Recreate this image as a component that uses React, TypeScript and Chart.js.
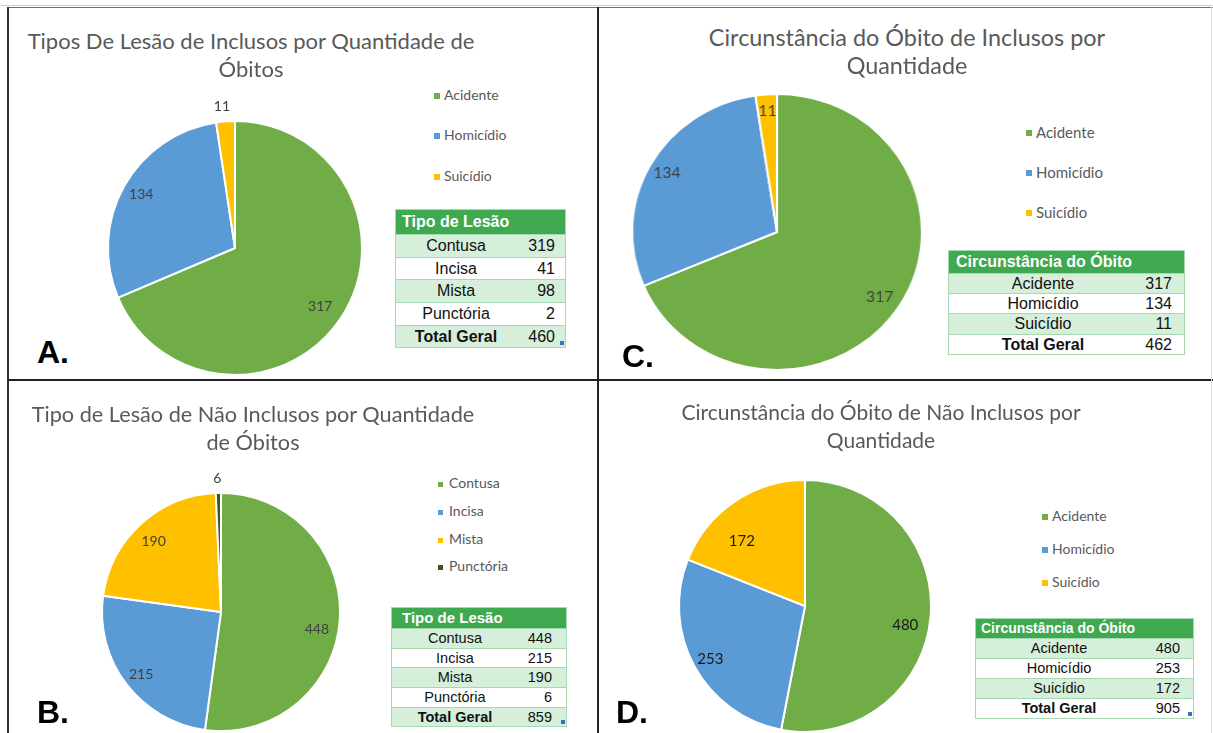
import React, { useEffect, useRef } from "react";
import { Chart, registerables } from "chart.js";
Chart.register(...registerables);

const GREEN = "#70AD47";
const BLUE = "#5B9BD5";
const YELLOW = "#FFC000";
const DARKGREEN = "#375623";

// ---------- Panel A ----------
const titleA = ["Tipos De Lesão de Inclusos por Quantidade de", "Óbitos"];
const legendA = ["Acidente", "Homicídio", "Suicídio"];
const valuesA = [317, 134, 11];
const tableTitleA = "Tipo de Lesão";
const tableLabelsA = ["Contusa", "Incisa", "Mista", "Punctória"];
const tableValuesA = [319, 41, 98, 2];
const tableTotalA = 460;

// ---------- Panel B ----------
const titleB = ["Tipo de Lesão de Não Inclusos por Quantidade", "de Óbitos"];
const legendB = ["Contusa", "Incisa", "Mista", "Punctória"];
const valuesB = [448, 215, 190, 6];
const tableTitleB = "Tipo de Lesão";
const tableLabelsB = ["Contusa", "Incisa", "Mista", "Punctória"];
const tableValuesB = [448, 215, 190, 6];
const tableTotalB = 859;

// ---------- Panel C ----------
const titleC = ["Circunstância do Óbito de Inclusos por", "Quantidade"];
const legendC = ["Acidente", "Homicídio", "Suicídio"];
const valuesC = [317, 134, 11];
const tableTitleC = "Circunstância do Óbito";
const tableLabelsC = ["Acidente", "Homicídio", "Suicídio"];
const tableValuesC = [317, 134, 11];
const tableTotalC = 462;

// ---------- Panel D ----------
const titleD = ["Circunstância do Óbito de Não Inclusos por", "Quantidade"];
const legendD = ["Acidente", "Homicídio", "Suicídio"];
const valuesD = [480, 253, 172];
const tableTitleD = "Circunstância do Óbito";
const tableLabelsD = ["Acidente", "Homicídio", "Suicídio"];
const tableValuesD = [480, 253, 172];
const tableTotalD = 905;

const TOTAL_LABEL = "Total Geral";
const colors3 = [GREEN, BLUE, YELLOW];
const colors4 = [GREEN, BLUE, YELLOW, DARKGREEN];

const TITLE_FONT = "Lato, 'Open Sans', sans-serif";
const TABLE_FONT = "'Liberation Sans', Arial, sans-serif";

type PieProps = {
  labels: string[];
  values: number[];
  colors: string[];
  cx: number;
  cy: number;
  r: number;
  scaleX?: number;
  factors: number[];
  offsets: number[];
  fontSize: number;
  labelColor: string;
};

function Pie(p: PieProps) {
  const ref = useRef<HTMLCanvasElement | null>(null);
  const m = 34;
  const size = 2 * p.r + 2 * m;
  useEffect(() => {
    const labelPlugin = {
      id: "sliceLabels",
      afterDatasetsDraw(chart: any) {
        const ctx = chart.ctx;
        const meta = chart.getDatasetMeta(0);
        ctx.save();
        ctx.font = `${p.fontSize}px ${TITLE_FONT}`;
        ctx.fillStyle = p.labelColor;
        ctx.textAlign = "center";
        ctx.textBaseline = "middle";
        meta.data.forEach((arc: any, i: number) => {
          const pr = arc.getProps(["x", "y", "startAngle", "endAngle", "outerRadius"], true);
          const a = (pr.startAngle + pr.endAngle) / 2 + (p.offsets[i] * Math.PI) / 180;
          const d = pr.outerRadius * p.factors[i];
          const v = chart.data.datasets[0].data[i];
          ctx.fillText(String(v), pr.x + Math.cos(a) * d, pr.y + Math.sin(a) * d);
        });
        ctx.restore();
      },
    };
    const chart = new Chart(ref.current as HTMLCanvasElement, {
      type: "pie",
      data: {
        labels: p.labels,
        datasets: [
          {
            data: p.values,
            backgroundColor: p.colors,
            borderColor: "#ffffff",
            borderWidth: 2,
            radius: p.r,
          } as any,
        ],
      },
      options: {
        responsive: false,
        animation: false,
        layout: { padding: m },
        plugins: { legend: { display: false }, tooltip: { enabled: false }, title: { display: false } },
      },
      plugins: [labelPlugin],
    });
    return () => chart.destroy();
  }, []);
  return (
    <canvas
      ref={ref}
      width={size}
      height={size}
      style={{
        position: "absolute",
        left: p.cx - size / 2,
        top: p.cy - size / 2,
        width: size,
        height: size,
        transform: p.scaleX ? `scaleX(${p.scaleX})` : undefined,
        transformOrigin: "50% 50%",
      }}
    />
  );
}

function Title({ lines, cx, cys, size }: { lines: string[]; cx: number; cys: number[]; size: number }) {
  return (
    <>
      {lines.map((t, i) => (
        <div
          key={i}
          style={{
            position: "absolute",
            left: cx - 350,
            width: 700,
            top: cys[i] - 15,
            height: 30,
            lineHeight: "30px",
            textAlign: "center",
            fontFamily: TITLE_FONT,
            fontSize: size,
            color: "#595959",
            whiteSpace: "nowrap",
          }}
        >
          {t}
        </div>
      ))}
    </>
  );
}

function Legend({
  labels,
  colors,
  markerX,
  textX,
  ys,
  size,
  marker,
}: {
  labels: string[];
  colors: string[];
  markerX: number;
  textX: number;
  ys: number[];
  size: number;
  marker: number;
}) {
  return (
    <>
      {labels.map((t, i) => (
        <React.Fragment key={i}>
          <div
            style={{
              position: "absolute",
              left: markerX,
              top: ys[i] - marker / 2 + 1,
              width: marker,
              height: marker,
              background: colors[i],
            }}
          />
          <div
            style={{
              position: "absolute",
              left: textX,
              top: ys[i] - 10,
              height: 20,
              lineHeight: "20px",
              fontFamily: TITLE_FONT,
              fontSize: size,
              color: "#595959",
              whiteSpace: "nowrap",
            }}
          >
            {t}
          </div>
        </React.Fragment>
      ))}
    </>
  );
}

type TableProps = {
  left: number;
  top: number;
  width: number;
  labelColW: number;
  headerH: number;
  rowH: number;
  fontSize: number;
  headerFontSize: number;
  headerPadL: number;
  valuePadR: number;
  title: string;
  labels: string[];
  values: number[];
  total: number;
  corner: boolean;
};

const HEADER_BG = "#3fa94f";
const ROW_BG = "#d5efdb";
const ROW_BORDER = "#a6d9b2";

function DataTable(p: TableProps) {
  const rows = [...p.labels.map((l, i) => ({ l, v: p.values[i], bold: false })), { l: TOTAL_LABEL, v: p.total, bold: true }];
  return (
    <div
      style={{
        position: "absolute",
        left: p.left,
        top: p.top,
        width: p.width,
        boxSizing: "border-box",
        border: `1px solid ${ROW_BORDER}`,
        fontFamily: TABLE_FONT,
        color: "#111",
      }}
    >
      <div
        style={{
          height: p.headerH,
          lineHeight: `${p.headerH}px`,
          background: HEADER_BG,
          color: "#fff",
          fontWeight: "bold",
          fontSize: p.headerFontSize,
          paddingLeft: p.headerPadL,
          whiteSpace: "nowrap",
        }}
      >
        {p.title}
      </div>
      {rows.map((r, i) => (
        <div
          key={i}
          style={{
            display: "flex",
            height: p.rowH,
            lineHeight: `${p.rowH - 1}px`,
            boxSizing: "border-box",
            borderTop: `1px solid ${ROW_BORDER}`,
            background: i % 2 === 0 ? ROW_BG : "#ffffff",
            fontSize: p.fontSize,
            position: "relative",
          }}
        >
          <div style={{ width: p.labelColW, textAlign: "center", fontWeight: r.bold ? "bold" : "normal", whiteSpace: "nowrap" }}>
            {r.l}
          </div>
          <div style={{ flex: 1, textAlign: "right", paddingRight: p.valuePadR }}>{r.v}</div>
          {p.corner && i === rows.length - 1 ? (
            <div style={{ position: "absolute", right: 1, bottom: 2, width: 4, height: 4, background: "#3b6fc4" }} />
          ) : null}
        </div>
      ))}
    </div>
  );
}

function Letter({ text, left, cy }: { text: string; left: number; cy: number }) {
  return (
    <div
      style={{
        position: "absolute",
        left,
        top: cy - 18,
        height: 36,
        lineHeight: "36px",
        fontFamily: TABLE_FONT,
        fontWeight: "bold",
        fontSize: 32,
        color: "#000",
      }}
    >
      {text}
    </div>
  );
}

function Line({ x, y, w, h, c }: { x: number; y: number; w: number; h: number; c: string }) {
  return <div style={{ position: "absolute", left: x, top: y, width: w, height: h, background: c }} />;
}

export default function App() {
  return (
    <div style={{ position: "fixed", left: 0, top: 0, width: 1213, height: 733, overflow: "hidden", background: "#fff" }}>
      {/* Pies */}
      <Pie labels={legendA} values={valuesA} colors={colors3} cx={235} cy={248} r={127}
        factors={[0.815, 0.85, 1.12]} offsets={[1, 0.5, -1]} fontSize={14} labelColor="#404040" />
      <Pie labels={legendB} values={valuesB} colors={colors4} cx={221} cy={612} r={119}
        factors={[0.82, 0.85, 0.82, 1.12]} offsets={[6.7, -0.6, -1.3, -0.3]} fontSize={14} labelColor="#404040" />
      <Pie labels={legendC} values={valuesC} colors={colors3} cx={777} cy={232} r={138} scaleX={1.05}
        factors={[0.85, 0.87, 0.88]} offsets={[0, 0, 0]} fontSize={15} labelColor="#404040" />
      <Pie labels={legendD} values={valuesD} colors={colors3} cx={805} cy={606} r={126}
        factors={[0.81, 0.86, 0.72]} offsets={[5.3, -0.4, -9.9]} fontSize={15} labelColor="#1a1a1a" />

      {/* Titles */}
      <Title lines={titleA} cx={251} cys={[41, 69]} size={22} />
      <Title lines={titleB} cx={253} cys={[414, 442]} size={21.7} />
      <Title lines={titleC} cx={907} cys={[37, 65]} size={23.4} />
      <Title lines={titleD} cx={881} cys={[412, 440]} size={21} />

      {/* Legends */}
      <Legend labels={legendA} colors={colors3} markerX={434} textX={444} ys={[95, 135, 176]} size={14} marker={6} />
      <Legend labels={legendB} colors={colors4} markerX={438} textX={449} ys={[483, 511, 539, 566]} size={14} marker={5} />
      <Legend labels={legendC} colors={colors3} markerX={1026} textX={1036} ys={[132, 172, 212]} size={15} marker={6} />
      <Legend labels={legendD} colors={colors3} markerX={1042} textX={1052} ys={[516, 549, 582]} size={14} marker={6} />

      {/* Tables */}
      <DataTable left={395} top={209} width={171} labelColW={120} headerH={24} rowH={22.7} fontSize={16} headerFontSize={16}
        headerPadL={6} valuePadR={10} title={tableTitleA} labels={tableLabelsA} values={tableValuesA} total={tableTotalA} corner={true} />
      <DataTable left={391} top={607} width={176} labelColW={126} headerH={20} rowH={19.7} fontSize={14.5} headerFontSize={15}
        headerPadL={10} valuePadR={14} title={tableTitleB} labels={tableLabelsB} values={tableValuesB} total={tableTotalB} corner={true} />
      <DataTable left={948} top={250} width={237} labelColW={188} headerH={21.7} rowH={20.3} fontSize={16} headerFontSize={16}
        headerPadL={7} valuePadR={12} title={tableTitleC} labels={tableLabelsC} values={tableValuesC} total={tableTotalC} corner={false} />
      <DataTable left={975} top={618} width={219} labelColW={166} headerH={19} rowH={20} fontSize={14.5} headerFontSize={14}
        headerPadL={5} valuePadR={13} title={tableTitleD} labels={tableLabelsD} values={tableValuesD} total={tableTotalD} corner={true} />

      {/* Letters */}
      <Letter text="A." left={37} cy={352} />
      <Letter text="B." left={37} cy={712} />
      <Letter text="C." left={622} cy={356} />
      <Letter text="D." left={616} cy={712} />

      {/* Frame lines */}
      <Line x={0} y={5} w={1213} h={1} c="#cfcfcf" />
      <Line x={8} y={7} w={1205} h={1} c="#707070" />
      <Line x={7} y={7} w={2} h={726} c="#333" />
      <Line x={597} y={7} w={2} h={726} c="#222" />
      <Line x={8} y={379} w={1205} h={2} c="#222" />
      <Line x={1211} y={7} w={1} h={726} c="#dddddd" />
    </div>
  );
}
